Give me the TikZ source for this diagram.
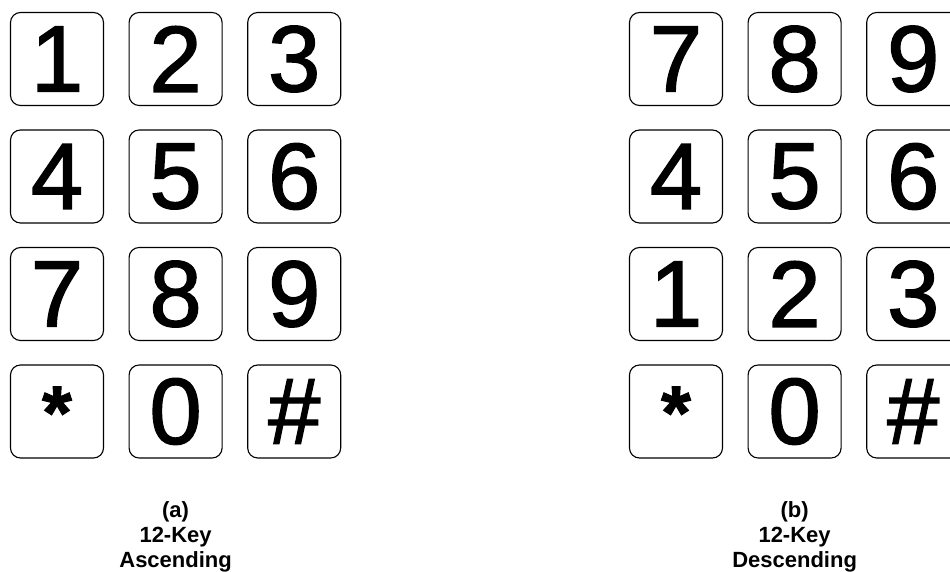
\documentclass[tikz,border=0pt]{standalone}
\usepackage{fontspec}
\setmainfont{Liberation Sans}
\newfontfamily\keyfont{Liberation Sans}[FakeBold=1.5]
\usetikzlibrary{positioning}
\newcommand{\keystar}{\vphantom{0}\smash{\raisebox{2.5pt}{\fontsize{38}{38}\selectfont\bfseries *}}}

\begin{document}
\begin{tikzpicture}[
      x=0.5pt, y=-0.5pt,
      key/.style={draw, rounded corners=5pt, minimum width=46.5pt, minimum height=46.5pt,
                  inner sep=0pt, line width=0.55pt, font=\keyfont\fontsize{47}{47}\selectfont},
      caption/.style={align=center, inner sep=0pt,
                      font=\bfseries\fontsize{11}{12.5}\selectfont},
      node distance=12.25pt]
    \useasboundingbox (0,0) rectangle (950,572);
    % (a) ascending pad
    \foreach \ka/\kb/\kc [count=\r] in {1/2/3, 4/5/6, 7/8/9, \keystar/0/\#} {
      \node[key] (a\r1) at (57, {59+117.5*(\r-1)}) {\ka};
      \node[key, right=of a\r1] (a\r2) {\kb};
      \node[key, right=of a\r2] (a\r3) {\kc};
    }
    % (b) descending pad
    \foreach \ka/\kb/\kc [count=\r] in {7/8/9, 4/5/6, 1/2/3, \keystar/0/\#} {
      \node[key] (b\r1) at (676, {59+117.5*(\r-1)}) {\ka};
      \node[key, right=of b\r1] (b\r2) {\kb};
      \node[key, right=of b\r2] (b\r3) {\kc};
    }
    \node[caption, below=21.5pt of a42] (capa) {(a)\\12-Key\\Ascending};
    \node[caption, below=21.5pt of b42] (capb) {(b)\\12-Key\\Descending};
  \end{tikzpicture}
\end{document}
